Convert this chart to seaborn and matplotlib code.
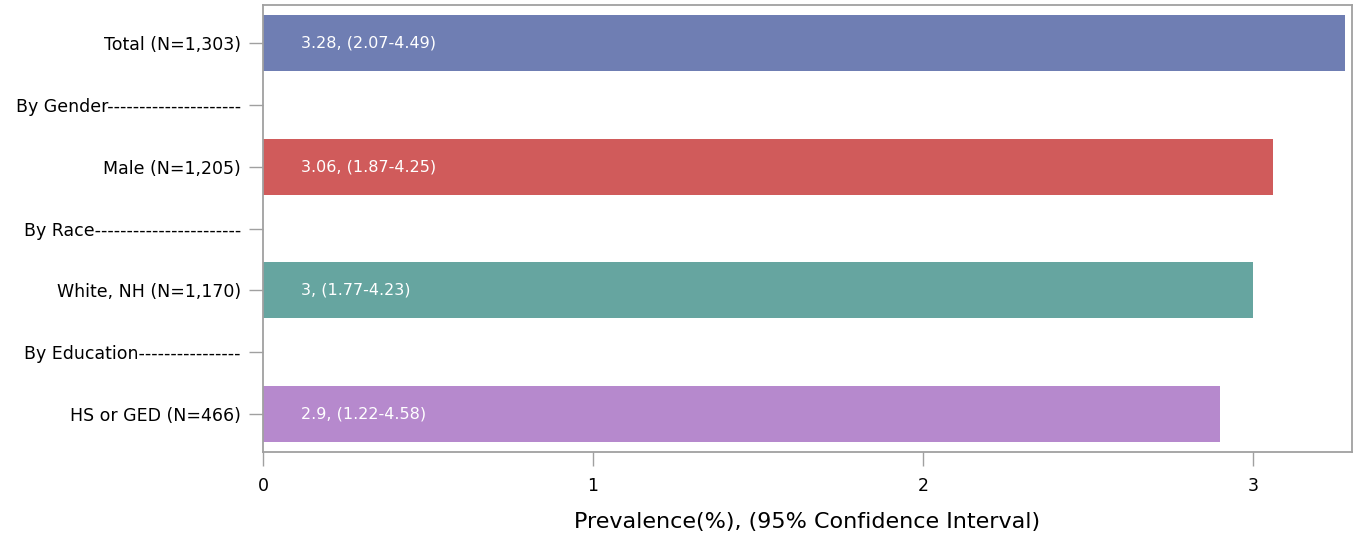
import matplotlib
matplotlib.use("Agg")
import matplotlib.pyplot as plt
import seaborn as sns
import pandas as pd
import numpy as np

categories = ["Total (N=1,303)", "By Gender---------------------", "Male (N=1,205)",
              "By Race-----------------------", "White, NH (N=1,170)",
              "By Education----------------", "HS or GED (N=466)"]
values = [3.28, 0.0, 3.06, 0.0, 3.0, 0.0, 2.9]
ci_low = [2.07, None, 1.87, None, 1.77, None, 1.22]
ci_high = [4.49, None, 4.25, None, 4.23, None, 4.58]
bar_labels = ["3.28, (2.07-4.49)", "", "3.06, (1.87-4.25)", "", "3, (1.77-4.23)", "", "2.9, (1.22-4.58)"]
colors = ["#6F7EB3", "#FFFFFF", "#D05B5B", "#FFFFFF", "#66A5A0", "#FFFFFF", "#B689CD"]

sns.set_style("white")
plt.rcParams['font.family'] = ['DejaVu Sans']
plt.rcParams['text.color'] = 'black'
plt.rcParams['xtick.color'] = 'black'
plt.rcParams['ytick.color'] = 'black'
plt.rcParams['axes.labelcolor'] = 'black'

df = pd.DataFrame({"cat": categories, "val": values})

fig = plt.figure(figsize=(13.58, 5.35), dpi=100)
ax = fig.add_axes([263/1358, 1 - 452/535, (1352-263)/1358, (452-5)/535])
sns.barplot(data=df, x="val", y="cat", hue="cat", order=categories, hue_order=categories,
            palette=colors, orient="h", width=0.9, linewidth=0, saturation=1,
            legend=False, ax=ax)

for i, lab in enumerate(bar_labels):
    if lab:
        ax.text(0.115, i, lab, color="white", va="center", ha="left", fontsize=11.5)

ax.set_xlim(0, 3.30)
ax.set_ylim(6.62, -0.62)
ax.set_xticks([0, 1, 2, 3])
ax.set_xlabel("Prevalence(%), (95% Confidence Interval)", fontsize=16, labelpad=12)
ax.set_ylabel("")
for s in ax.spines.values():
    s.set_visible(True)
    s.set_color("#A0A0A0")
    s.set_linewidth(1.3)
ax.tick_params(axis="both", which="both", length=10, width=1, color="#A0A0A0",
               labelsize=12.5, direction="out", labelcolor="black")
ax.tick_params(axis="x", pad=8)
ax.tick_params(axis="y", pad=6)
ax.tick_params(bottom=True, left=True)

fig.savefig("out.png", dpi=100)
